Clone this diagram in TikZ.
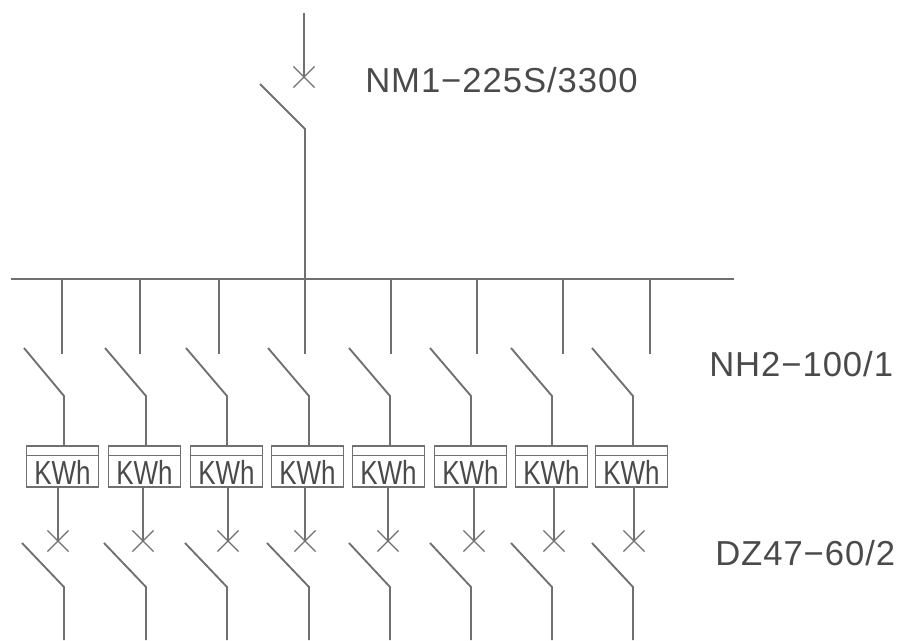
\documentclass[tikz,border=0pt]{standalone}
\usepackage{fontspec}
\setmainfont{Liberation Sans}
\newfontfamily\modelfont[LetterSpace=2.7]{Liberation Sans}
\usetikzlibrary{shapes.misc}
\definecolor{wirecol}{HTML}{707070}
\definecolor{textcol}{HTML}{4A4A4A}
\newcommand{\kwh}{\fontsize{25}{25}\selectfont\raisebox{-13.6pt}[0pt][0pt]{\scalebox{0.78}[1]{KWh}}}
\tikzset{
  wire/.style={draw=wirecol,line width=1.4pt},
  breaker/.style={cross out,draw=wirecol,line width=0.9pt,inner sep=0pt,minimum size=15pt},
  meter/.style={rectangle,draw=wirecol,line width=1.1pt,inner sep=0pt,minimum width=54pt,minimum height=30.5pt,text=textcol,
    path picture={\draw[wirecol,line width=1.3pt] ([yshift=-7pt]path picture bounding box.north west) -- ([yshift=-7pt]path picture bounding box.north east);}},
  model/.style={anchor=west,text=textcol,inner sep=0pt,font=\modelfont\fontsize{26}{26}\selectfont}
}
\begin{document}
\begin{tikzpicture}[x=0.75pt,y=-0.75pt]
  \useasboundingbox (0,0) rectangle (901,640);
  %Incoming breaker and switch
  \node[breaker] (B0) at (304,77) {};
  \coordinate (top) at (304,13);
  \draw[wire] (top) -- (B0.center);
  \draw[wire] (260,84) -- (305,129) -- (305,279);
  %Bus bar
  \coordinate (busl) at (11,279);
  \coordinate (busr) at (734,279);
  \draw[wire] (busl) -- (busr);
  %Feeders
  \draw[wire] (62,279) -- (62,354);
  \draw[wire] (140,279) -- (140,354);
  \draw[wire] (219,279) -- (219,354);
  \draw[wire] (305,279) -- (305,354);
  \draw[wire] (391,279) -- (391,354);
  \draw[wire] (477,279) -- (477,354);
  \draw[wire] (563,279) -- (563,354);
  \draw[wire] (650,279) -- (650,354);
  %Meters
  \node[meter] (M1) at (62.5,466.5) {\kwh};
  \node[meter] (M2) at (144.5,466.5) {\kwh};
  \node[meter] (M3) at (226.5,466.5) {\kwh};
  \node[meter] (M4) at (307.5,466.5) {\kwh};
  \node[meter] (M5) at (388.5,466.5) {\kwh};
  \node[meter] (M6) at (470.5,466.5) {\kwh};
  \node[meter] (M7) at (551.5,466.5) {\kwh};
  \node[meter] (M8) at (631.5,466.5) {\kwh};
  %Upper switches
  \draw[wire] (24,348) -- (64,396) -- (64,446);
  \draw[wire] (105,348) -- (146,396) -- (146,446);
  \draw[wire] (186,348) -- (227,396) -- (227,446);
  \draw[wire] (268,348) -- (309,396) -- (309,446);
  \draw[wire] (349,348) -- (390,396) -- (390,446);
  \draw[wire] (430,348) -- (471,396) -- (471,446);
  \draw[wire] (511,348) -- (552,396) -- (552,446);
  \draw[wire] (592,348) -- (633,396) -- (633,446);
  %Breakers below the meters
  \node[breaker] (B1) at (58,541) {};
  \node[breaker] (B2) at (143,541) {};
  \node[breaker] (B3) at (228,541) {};
  \node[breaker] (B4) at (305,541) {};
  \node[breaker] (B5) at (388,541) {};
  \node[breaker] (B6) at (474,541) {};
  \node[breaker] (B7) at (554,541) {};
  \node[breaker] (B8) at (634,541) {};
  \draw[wire] (M1.south -| B1) -- (B1.center);
  \draw[wire] (M2.south -| B2) -- (B2.center);
  \draw[wire] (M3.south -| B3) -- (B3.center);
  \draw[wire] (M4.south -| B4) -- (B4.center);
  \draw[wire] (M5.south -| B5) -- (B5.center);
  \draw[wire] (M6.south -| B6) -- (B6.center);
  \draw[wire] (M7.south -| B7) -- (B7.center);
  \draw[wire] (M8.south -| B8) -- (B8.center);
  %Lower switches
  \draw[wire] (22,543) -- (64,587) -- (64,640);
  \draw[wire] (104,543) -- (146,587) -- (146,640);
  \draw[wire] (185,543) -- (227,587) -- (227,640);
  \draw[wire] (267,543) -- (309,587) -- (309,640);
  \draw[wire] (349,543) -- (390,587) -- (390,640);
  \draw[wire] (430,543) -- (471,587) -- (471,640);
  \draw[wire] (511,543) -- (552,587) -- (552,640);
  \draw[wire] (592,543) -- (633,587) -- (633,640);
  %Type labels
  \node[model] (main) at (365,80) {NM1−225S/3300};
  \node[model] (nh) at (709,364) {NH2−100/1};
  \node[model] (dz) at (715,553) {DZ47−60/2};
\end{tikzpicture}
\end{document}
